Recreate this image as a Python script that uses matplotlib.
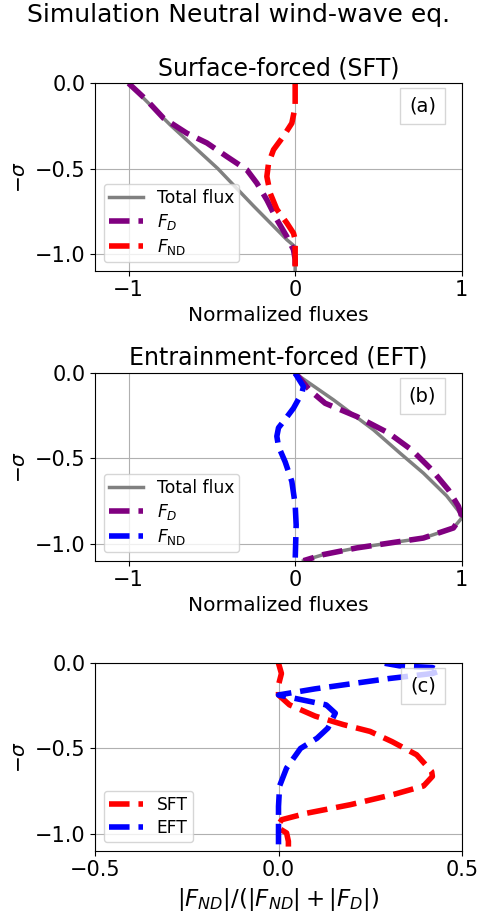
import numpy as np
import matplotlib
matplotlib.use("Agg")
import matplotlib.pyplot as plt

plt.rcParams['font.size'] = 14
plt.rcParams['axes.titlesize'] = 17
plt.rcParams['axes.labelsize'] = 14.5
plt.rcParams['xtick.labelsize'] = 15
plt.rcParams['ytick.labelsize'] = 15
plt.rcParams['legend.fontsize'] = 12.3
plt.rcParams['legend.labelspacing'] = 0.3
plt.rcParams['legend.borderpad'] = 0.3

# ---- (a) surface-forced ----
a_sig_tot = np.array([0, 0.244, 0.5, 0.72, 0.918, 0.96, 1.1])
a_tot = np.array([-1, -0.75, -0.465, -0.25, -0.05, 0, 0])
a_sig_fd = np.array([0, 0.1, 0.205, 0.293, 0.35, 0.43, 0.508, 0.586, 0.684, 0.80, 0.90, 0.977, 1.035, 1.1])
a_fd = np.array([-1, -0.89, -0.79, -0.65, -0.53, -0.41, -0.29, -0.23, -0.17, -0.11, -0.05, -0.01, 0, 0])
a_sig_fnd = np.array([0, 0.137, 0.234, 0.31, 0.39, 0.47, 0.547, 0.645, 0.74, 0.82, 0.88, 0.918, 1.1])
a_fnd = np.array([0, 0, -0.02, -0.07, -0.13, -0.16, -0.17, -0.15, -0.11, -0.05, -0.01, 0, 0])

# ---- (b) entrainment-forced ----
b_sig_tot = np.array([0, 0.156, 0.332, 0.469, 0.586, 0.72, 0.82, 0.85, 0.908, 0.967, 0.996, 1.025, 1.064, 1.1])
b_tot = np.array([0, 0.23, 0.47, 0.63, 0.77, 0.91, 0.99, 1.0, 0.95, 0.77, 0.57, 0.37, 0.17, 0.05])
b_sig_fd = np.array([0, 0.02, 0.068, 0.11, 0.176, 0.254, 0.35, 0.45, 0.566, 0.684, 0.78, 0.84,
                     0.908, 0.967, 0.996, 1.025, 1.064, 1.1])
b_fd = np.array([0, 0.02, 0.06, 0.10, 0.18, 0.37, 0.56, 0.70, 0.82, 0.92, 0.98, 1.0,
                 0.95, 0.77, 0.57, 0.37, 0.17, 0.05])
b_sig_fnd = np.array([0, 0.078, 0.117, 0.205, 0.27, 0.32, 0.37, 0.43, 0.52, 0.635, 0.77, 0.89, 1.0, 1.1])
b_fnd = np.array([0, 0.05, 0.04, -0.01, -0.06, -0.10, -0.11, -0.10, -0.06, -0.02, 0, 0.006, 0.003, 0])

# ---- (c) ratio |F_ND|/(|F_ND|+|F_D|) ----
c_sig_sft = np.array([0, 0.06, 0.127, 0.186, 0.244, 0.31, 0.36, 0.40, 0.46, 0.537, 0.635, 0.664, 0.72,
                      0.77, 0.83, 0.88, 0.918, 0.945, 0.967, 0.996, 1.045, 1.1])
c_sft = np.array([0, 0.008, 0, 0, 0.03, 0.10, 0.177, 0.25, 0.31, 0.377, 0.418, 0.42, 0.396,
                  0.314, 0.196, 0.077, 0.009, 0.0, 0.0, 0.022, 0.027, 0.027])
c_sig_eft = np.array([0.0, 0.015, 0.025, 0.045, 0.06, 0.075, 0.09, 0.12, 0.15, 0.186, 0.244, 0.293,
                      0.38, 0.44, 0.5, 0.615, 0.72, 0.84, 1.1])
c_eft = np.array([0.29, 0.33, 0.42, 0.44, 0.42, 0.36, 0.30, 0.20, 0.10, 0.0, 0.13, 0.155,
                  0.135, 0.105, 0.06, 0.022, 0.003, 0.0, 0.0])

lw = 4
fig = plt.figure(figsize=(4.78, 9.16), dpi=100)
ax_a = fig.add_axes([0.1994, 0.7045, 0.7665, 0.2045])
ax_b = fig.add_axes([0.1994, 0.3879, 0.7665, 0.2046])
ax_c = fig.add_axes([0.1994, 0.0713, 0.7665, 0.2046])

box = dict(boxstyle='square,pad=0.45', facecolor='white', edgecolor='0.8', alpha=0.8)


def panel_flux(ax, sig_t, tot, sig_d, fd, sig_n, fnd, ncol, title, tag):
    ax.plot(tot, -sig_t, color='gray', lw=2.5, label='Total flux')
    ax.plot(fd, -sig_d, '--', color='purple', lw=lw, label=r'$F_D$')
    ax.plot(fnd, -sig_n, '--', color=ncol, lw=lw, label=r'$F_{\rm ND}$')
    ax.set_xlim(-1.2, 1.0)
    ax.set_ylim(-1.1, 0)
    ax.set_xticks([-1, 0, 1])
    ax.set_yticks([-1.0, -0.5, 0.0])
    ax.grid(True)
    ax.set_title(title)
    ax.set_xlabel('Normalized fluxes')
    ax.set_ylabel(r'$-\sigma$')
    ax.legend(loc='lower left')
    ax.text(0.93, 0.93, tag, transform=ax.transAxes, ha='right', va='top', bbox=box, zorder=5)


panel_flux(ax_a, a_sig_tot, a_tot, a_sig_fd, a_fd, a_sig_fnd, a_fnd, 'red', 'Surface-forced (SFT)', '(a)')
panel_flux(ax_b, b_sig_tot, b_tot, b_sig_fd, b_fd, b_sig_fnd, b_fnd, 'blue', 'Entrainment-forced (EFT)', '(b)')

ax_c.plot(c_sft, -c_sig_sft, '--', color='red', lw=lw, label='SFT')
ax_c.plot(c_eft, -c_sig_eft, '--', color='blue', lw=lw, label='EFT')
ax_c.set_xlim(-0.5, 0.5)
ax_c.set_ylim(-1.1, 0)
ax_c.set_xticks([-0.5, 0.0, 0.5])
ax_c.set_yticks([-1.0, -0.5, 0.0])
ax_c.grid(True)
ax_c.set_xlabel(r'$|F_{ND}|/(|F_{ND}|+|F_D|)$', fontsize=16.5)
ax_c.set_ylabel(r'$-\sigma$')
ax_c.legend(loc='lower left')
ax_c.text(0.93, 0.93, '(c)', transform=ax_c.transAxes, ha='right', va='top', bbox=box, zorder=5)

fig.suptitle('Simulation Neutral wind-wave eq.', fontsize=18, y=0.997)

fig.savefig('out.png', dpi=100)
